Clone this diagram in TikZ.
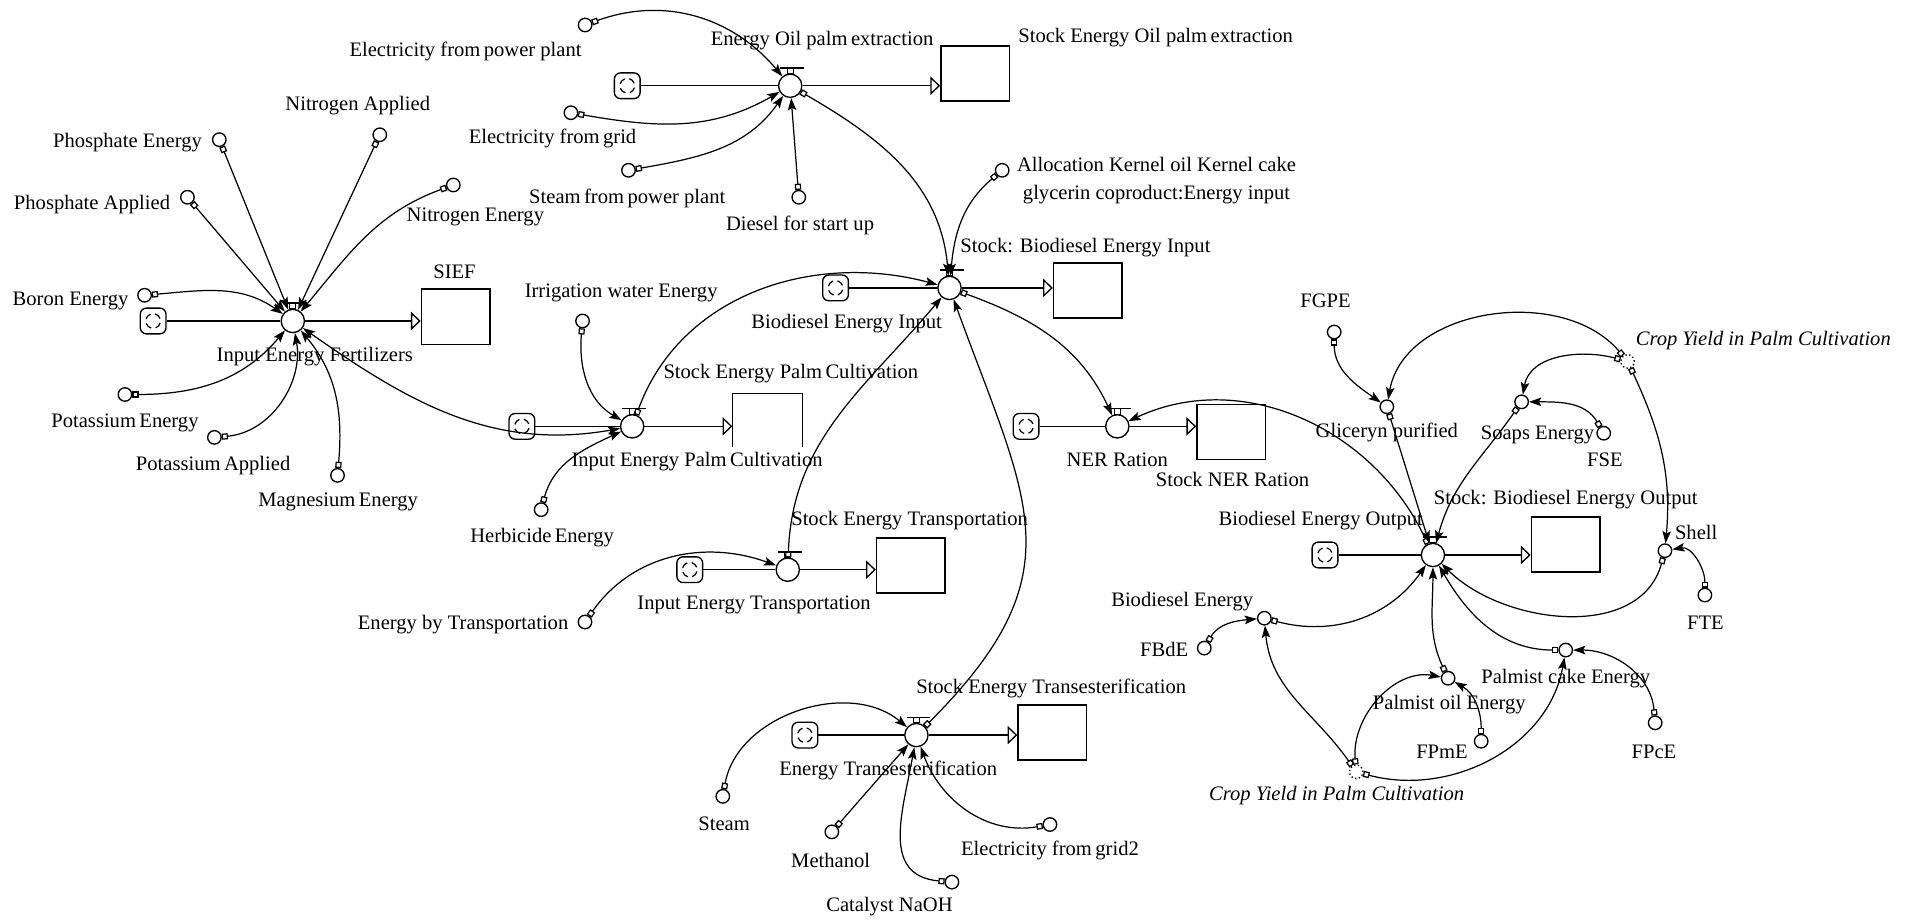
\documentclass[tikz,border=0pt]{standalone}
\usepackage{fontspec}
\setmainfont{Liberation Serif}
\usepackage{tikz}
\usetikzlibrary{arrows.meta,calc}

\begin{document}
\begin{tikzpicture}[
    x=1pt,
    y=1pt,
    font=\fontsize{16.8}{23}\selectfont,
    stock/.style={rectangle, draw, line width=1.2pt, minimum width=56pt, minimum height=45pt, inner sep=0pt},
    valve/.style={circle, draw, line width=1.1pt, minimum size=19pt, inner sep=0pt, fill=white},
    conv/.style={circle, draw, line width=1.1pt, minimum size=11pt, inner sep=0pt, fill=white},
    ghost/.style={conv, dotted},
    cloud/.style={rectangle, rounded corners=5pt, draw, line width=1.1pt, minimum size=21pt, inner sep=0pt,
      path picture={
        \foreach \a in {20,110,200,290}
          \draw[line width=1pt] ($(path picture bounding box.center)+(\a:6pt)$) arc[start angle=\a, end angle=\a+55, radius=6pt];
      }},
    lbl/.style={inner sep=1pt},
    flow/.style={line width=1.1pt},
    inflow/.style={flow, -{Triangle[open, length=8pt, width=15pt]}},
    link/.style={{Square[open, length=5pt, width=5pt]}-{Stealth[length=10pt, width=7pt, inset=2pt]}, line width=1pt},
    link2/.style={{Stealth[length=10pt, width=7pt, inset=2pt]}-{Stealth[length=10pt, width=7pt, inset=2pt]}, line width=1pt}
  ]
    \useasboundingbox (0,0) rectangle (1568,-752);

    % fertilizers
    \node[cloud] (kF) at (125,-262) {};
    \node[valve] (vF) at (239,-262) {};
    \node[stock] (bSIEF) at (372,-258.5) {};
    \node[lbl] (tSIEF) at (371,-222) {SIEF};
    \node[lbl] (tFert) at (257,-291) {Input Energy Fertilizers};
    \node[conv] (phosE) at (179,-114) {};
    \node[conv] (nitA) at (310,-110) {};
    \node[conv] (phosA) at (153,-161) {};
    \node[conv] (nitE) at (370,-151) {};
    \node[conv] (boron) at (118,-241) {};
    \node[conv] (potE) at (102,-322) {};
    \node[conv] (potA) at (175,-357) {};
    \node[conv] (magn) at (275.5,-388) {};
    \node[lbl, anchor=east] (tPhosE) at (166,-116) {Phosphate Energy};
    \node[lbl] (tNitA) at (292,-86) {Nitrogen Applied};
    \node[lbl, anchor=east] (tPhosA) at (140,-167) {Phosphate Applied};
    \node[lbl] (tNitE) at (388,-177) {Nitrogen Energy};
    \node[lbl, anchor=east] (tBoron) at (106,-245.7) {Boron Energy};
    \node[lbl] (tPotE) at (102,-345) {Potassium\,Energy};
    \node[lbl] (tPotA) at (174,-380) {Potassium\,Applied};
    \node[lbl] (tMagn) at (276,-410) {Magnesium\,Energy};

    % oil palm extraction
    \node[cloud] (kOil) at (512,-70) {};
    \node[valve] (vOil) at (645,-70) {};
    \node[stock] (bOil) at (796,-60) {};
    \node[lbl] (tOil) at (671,-33) {Energy Oil palm\,extraction};
    \node[lbl, anchor=west] (tOilS) at (830,-31) {Stock Energy Oil palm\,extraction};
    \node[conv] (elecPP) at (477.6,-20.4) {};
    \node[conv] (elecGrid) at (466,-92) {};
    \node[conv] (steamPP) at (513,-139) {};
    \node[conv] (diesel) at (652,-161) {};
    \node[lbl] (tElecPP) at (380,-42) {Electricity from\,power plant};
    \node[lbl] (tElecGrid) at (451,-113) {Electricity from\,grid};
    \node[lbl] (tSteamPP) at (512,-162) {Steam\,from\,power plant};
    \node[lbl] (tDiesel) at (653,-184) {Diesel for start up};

    % biodiesel energy input
    \node[cloud] (kIn) at (682,-235) {};
    \node[valve] (vIn) at (775,-235) {};
    \node[stock] (bIn) at (888,-237) {};
    \node[lbl] (tInS) at (886,-202) {Stock: Biodiesel Energy Input};
    \node[lbl] (tIn) at (691,-264.5) {Biodiesel Energy Input};
    \node[conv] (alloc) at (818,-139) {};
    \node[lbl, align=center] (tAlloc) at (944,-147.5) {Allocation Kernel oil Kernel cake\\glycerin coproduct:Energy input};

    % palm cultivation
    \node[cloud] (kPalm) at (426,-348) {};
    \node[valve] (vPalm) at (516,-348) {};
    \node[minimum width=57pt, minimum height=43pt, inner sep=0pt] (bPalm) at (626.5,-343) {};
    \node[lbl] (tPalmS) at (645.5,-305) {Stock Energy Palm\,Cultivation};
    \node[lbl] (tPalm) at (569,-377) {Input Energy Palm\,Cultivation};
    \node[conv] (irr) at (475.5,-262) {};
    \node[conv] (herb) at (441.7,-416) {};
    \node[lbl] (tIrr) at (507,-239) {Irrigation water Energy};
    \node[lbl] (tHerb) at (442.5,-439) {Herbicide\,Energy};

    % transportation
    \node[cloud] (kTrans) at (563,-465) {};
    \node[valve] (vTrans) at (643,-465) {};
    \node[stock] (bTrans) at (743.5,-461.5) {};
    \node[lbl] (tTransS) at (742.5,-425) {Stock Energy Transportation};
    \node[lbl] (tTrans) at (615.5,-494) {Input Energy Transportation};
    \node[conv] (ebt) at (477.5,-507.7) {};
    \node[lbl] (tEbt) at (378,-510) {Energy by Transportation};

    % transesterification
    \node[cloud] (kEst) at (657,-600) {};
    \node[valve] (vEst) at (748,-600) {};
    \node[stock] (bEst) at (859,-598) {};
    \node[lbl] (tEstS) at (858,-562) {Stock Energy Transesterification};
    \node[lbl] (tEst) at (725,-629) {Energy Transesterification};
    \node[conv] (steam) at (590,-650) {};
    \node[conv] (meth) at (679,-679) {};
    \node[conv] (cat) at (777,-720) {};
    \node[conv] (elec2) at (857,-673) {};
    \node[lbl] (tSteam) at (591,-672) {Steam};
    \node[lbl] (tMeth) at (678,-702) {Methanol};
    \node[lbl] (tCat) at (726,-740) {Catalyst NaOH};
    \node[lbl] (tElec2) at (857,-694) {Electricity from\,grid2};

    % NER
    \node[cloud] (kNER) at (837.5,-348) {};
    \node[valve] (vNER) at (912,-348) {};
    \node[stock] (bNER) at (1005,-352.5) {};
    \node[lbl] (tNER) at (912,-375) {NER Ration};
    \node[lbl] (tNERS) at (1006,-391) {Stock NER Ration};

    % biodiesel energy output
    \node[cloud] (kOut) at (1081.5,-453) {};
    \node[valve] (vOut) at (1169.6,-453) {};
    \node[stock] (bOut) at (1278,-444.5) {};
    \node[lbl] (tOutS) at (1278,-408) {Stock: Biodiesel Energy Output};
    \node[lbl] (tOut) at (1078,-425) {Biodiesel Energy Output};
    \node[conv] (fgpe) at (1089,-271) {};
    \node[conv] (glic) at (1132,-332) {};
    \node[ghost] (cropT) at (1328.5,-295) {};
    \node[conv] (soaps) at (1242,-328) {};
    \node[conv] (fse) at (1309,-353.6) {};
    \node[conv] (shell) at (1359,-449.5) {};
    \node[conv] (fte) at (1391.6,-485.7) {};
    \node[conv] (bde) at (1032,-504.6) {};
    \node[conv] (fbde) at (983,-529) {};
    \node[conv] (pcake) at (1278,-530.6) {};
    \node[conv] (fpce) at (1351,-590) {};
    \node[conv] (poil) at (1182,-553.6) {};
    \node[conv] (fpme) at (1209,-605) {};
    \node[ghost] (cropB) at (1107,-630) {};
    \node[lbl] (tFgpe) at (1082,-245.6) {FGPE};
    \node[lbl] (tGlic) at (1132,-353) {Gliceryn purified};
    \node[lbl, anchor=west, font=\fontsize{16.8}{23}\selectfont\itshape] (tCropT) at (1334,-278) {Crop Yield in Palm Cultivation};
    \node[lbl] (tSoaps) at (1255,-355) {Soaps Energy};
    \node[lbl] (tFse) at (1310,-375.5) {FSE};
    \node[lbl, anchor=west] (tShell) at (1366,-435) {Shell};
    \node[lbl] (tFte) at (1392,-508) {FTE};
    \node[lbl] (tBde) at (965,-490.7) {Biodiesel Energy};
    \node[lbl, anchor=east] (tFbde) at (971,-530) {FBdE};
    \node[lbl] (tPcake) at (1278,-553.6) {Palmist cake Energy};
    \node[lbl] (tFpce) at (1350,-613.6) {FPcE};
    \node[lbl] (tPoil) at (1183,-575.5) {Palmist oil Energy};
    \node[lbl] (tFpme) at (1177,-613.6) {FPmE};
    \node[lbl, font=\fontsize{16.8}{23}\selectfont\itshape] (tCropB) at (1091,-649) {Crop Yield in Palm Cultivation};

    % valve bars
    \foreach \v in {vF,vOil,vIn,vPalm,vTrans,vEst,vNER,vOut} {
      \draw[line width=1.2pt] ($(\v.north)+(-8pt,4.5pt)$) -- ++(19.5pt,0);
      \draw[line width=.8pt] ($(\v.north)+(-2.5pt,0)$) rectangle ++(5pt,4.5pt);
    }

    % stocks and flows
    \draw[line width=1.2pt] (bPalm.south west) -- (bPalm.north west) -- (bPalm.north east) -- (bPalm.south east);
    \draw[flow] (kF) -- (vF);
    \draw[inflow] (vF) -- (vF -| bSIEF.west);
    \draw[flow] (kOil) -- (vOil);
    \draw[inflow] (vOil) -- (vOil -| bOil.west);
    \draw[flow] (kIn) -- (vIn);
    \draw[inflow] (vIn) -- (vIn -| bIn.west);
    \draw[flow] (kPalm) -- (vPalm);
    \draw[inflow] (vPalm) -- (vPalm -| bPalm.west);
    \draw[flow] (kTrans) -- (vTrans);
    \draw[inflow] (vTrans) -- (vTrans -| bTrans.west);
    \draw[flow] (kEst) -- (vEst);
    \draw[inflow] (vEst) -- (vEst -| bEst.west);
    \draw[flow] (kNER) -- (vNER);
    \draw[inflow] (vNER) -- (vNER -| bNER.west);
    \draw[flow] (kOut) -- (vOut);
    \draw[inflow] (vOut) -- (vOut -| bOut.west);

    % links
    \draw[link] (phosE) -- (vF);
    \draw[link] (nitA) -- (vF);
    \draw[link] (phosA) -- (vF);
    \draw[link] (nitE) to[out=200, in=50] (vF);
    \draw[link] (boron) to[out=5, in=145] (vF);
    \draw[link] (potE) to[out=0, in=230] (vF);
    \draw[link] (potA) to[out=5, in=-80] (vF);
    \draw[link] (magn) to[out=85, in=-50] (vF);
    \draw[link2] (vF) to[out=-35, in=190] (vPalm);

    \draw[link] (elecPP) to[out=20, in=130] (vOil);
    \draw[link] (elecGrid) to[out=-10, in=210] (vOil);
    \draw[link] (steamPP) to[out=10, in=235] (vOil);
    \draw[link] (diesel) -- (vOil);
    \draw[link] (vOil) to[out=-30, in=95] (vIn);

    \draw[link] (alloc) to[out=220, in=85] (vIn);
    \draw[link] (vPalm) to[out=70, in=165] (vIn);
    \draw[link] (vTrans) to[out=88, in=230] (vIn);
    \draw[link] (vEst) to[out=45, in=-70, looseness=1.3] (vIn);
    \draw[link] (vIn) to[out=-20, in=115] (vNER);

    \draw[link] (irr) to[out=-95, in=150] (vPalm);
    \draw[link] (herb) to[out=75, in=205] (vPalm);
    \draw[link] (ebt) to[out=55, in=160] (vTrans);

    \draw[link] (steam) to[out=80, in=140] (vEst);
    \draw[link] (meth) -- (vEst);
    \draw[link] (cat) to[out=175, in=-100, looseness=1.2] (vEst);
    \draw[link] (elec2) to[out=190, in=-70] (vEst);

    \draw[link] (vOut) to[out=115, in=25] (vNER);

    \draw[link] (fgpe) to[out=-90, in=145] (glic);
    \draw[link] (cropT) to[out=130, in=80] (glic);
    \draw[link] (glic) -- (vOut);
    \draw[link] (cropT) to[out=165, in=80] (soaps);
    \draw[link] (fse) to[out=120, in=0] (soaps);
    \draw[link] (soaps) to[out=-125, in=75] (vOut);
    \draw[link] (cropT) to[out=-65, in=85] (shell);
    \draw[link] (fte) to[out=90, in=10] (shell);
    \draw[link] (shell) to[out=-105, in=-45] (vOut);
    \draw[link] (bde) to[out=-15, in=-125] (vOut);
    \draw[link] (fbde) to[out=60, in=185] (bde);
    \draw[link] (cropB) to[out=125, in=-85] (bde);
    \draw[link] (cropB) to[out=95, in=170] (poil);
    \draw[link] (cropB) to[out=-15, in=-100] (pcake);
    \draw[link] (fpme) to[out=90, in=-30] (poil);
    \draw[link] (poil) to[out=115, in=-90] (vOut);
    \draw[link] (fpce) to[out=95, in=0] (pcake);
    \draw[link] (pcake) to[out=180, in=-60] (vOut);
  \end{tikzpicture}
\end{document}
